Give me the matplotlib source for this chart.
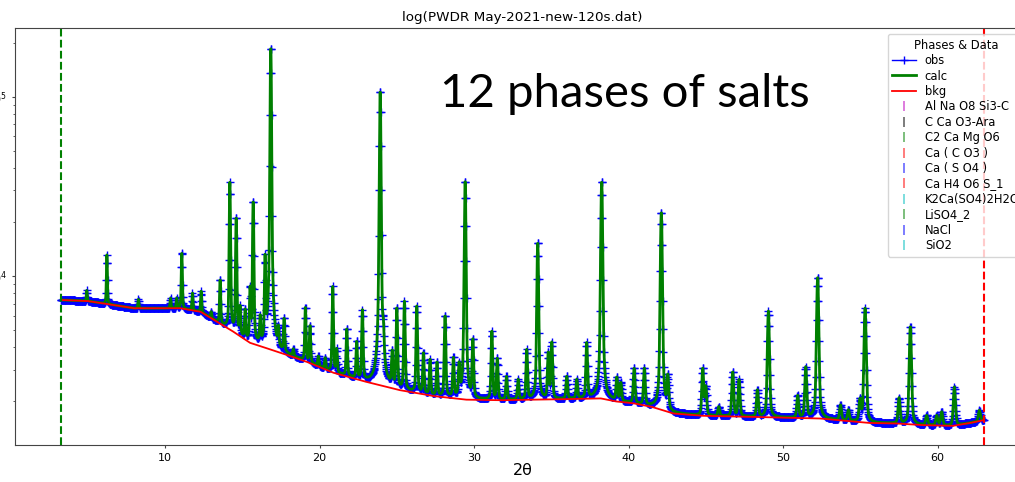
import numpy as np
import matplotlib
matplotlib.use('Agg')
import matplotlib.pyplot as plt
from matplotlib.lines import Line2D

# refined reflections: 2theta position and peak-top counts
peak_tth = [4.93, 6.23, 8.27, 10.35, 10.75, 11.08, 11.77, 12.33, 12.98, 13.56,
            14.19, 14.60, 14.85, 15.18, 15.50, 15.70, 16.15, 16.47, 16.84, 17.33,
            17.70, 18.30, 19.08, 19.38, 19.92, 20.36, 20.85, 21.11, 21.76, 22.40,
            22.77, 23.92, 24.13, 24.70, 25.00, 25.49, 26.29, 26.72, 27.15, 27.60,
            28.12, 28.66, 29.03, 29.42, 29.92, 31.15, 31.50, 32.10, 32.85, 33.41,
            34.12, 34.80, 35.03, 36.00, 36.65, 37.29, 38.26, 39.24, 39.50, 40.36,
            41.02, 42.12, 42.54, 44.80, 45.00, 45.84, 46.74, 47.15, 48.34, 49.05,
            50.95, 51.47, 52.24, 53.72, 54.23, 54.98, 55.31, 57.51, 58.24, 59.30,
            59.95, 60.27, 61.09, 62.71]
peak_top = [8300, 13100, 7400, 7500, 7500, 13700, 8000, 8200, 6300, 9600,
            33200, 21600, 6600, 6450, 8500, 26600, 5700, 12300, 192800, 4800,
            5700, 3860, 6750, 5300, 3550, 3470, 8700, 3860, 5100, 4300,
            6400, 109400, 3860, 3700, 6650, 7180, 6760, 3720, 3390, 3300,
            6050, 3470, 3100, 34400, 4390, 4890, 3470, 2750, 2630, 3860,
            15500, 3720, 4230, 2750, 2630, 4210, 34000, 2690, 2510, 3050,
            3050, 22900, 2690, 3050, 2400, 1860, 2920, 2630, 2310, 6370,
            2140, 3090, 9900, 1900, 1780, 2000, 6610, 2080, 5250, 1660,
            1660, 1740, 2400, 1780]

# background function sampled along the pattern
bkg_tth = [3.27, 5.0, 8.0, 10.0, 11.0, 12.3, 13.35, 14.4, 15.5, 16.6,
           17.9, 19.2, 20.9, 23.0, 25.2, 27.4, 29.5, 31.7, 33.8, 36.0,
           38.2, 39.2, 40.3, 41.5, 42.9, 44.8, 48.0, 52.4, 55.6, 57.4,
           59.1, 61.0, 62.1, 63.0]
bkg_cnt = [7345, 7244, 6607, 6607, 6607, 6310, 5559, 4898, 4236, 3945,
           3622, 3311, 2884, 2570, 2307, 2138, 2042, 2028, 2042, 2056,
           2075, 1995, 1950, 1862, 1710, 1660, 1637, 1603, 1514, 1503,
           1472, 1459, 1514, 1570]

phase_names = ['Al Na O8 Si3-C', 'C Ca O3-Ara', 'C2 Ca Mg O6', 'Ca ( C O3 )',
               'Ca ( S O4 )', 'Ca H4 O6 S_1', 'K2Ca(SO4)2H2O', 'LiSO4_2',
               'NaCl', 'SiO2']
phase_colors = ['m', 'k', 'g', 'r', 'b', 'r', 'c', 'g', 'b', 'c']

tth_lo, tth_hi, step = 3.27, 63.0, 0.02
eta = 0.35

tth = np.arange(tth_lo, tth_hi + 1e-9, step)
log_bkg = np.log10(bkg_cnt)
bkg = 10 ** np.interp(tth, bkg_tth, log_bkg)

# pseudo-Voigt profile on top of the background, width grows with angle
calc = bkg.copy()
for pos, top in zip(peak_tth, peak_top):
    fwhm = 0.06 + 0.0015 * pos
    amp = top - 10 ** np.interp(pos, bkg_tth, log_bkg)
    d = (tth - pos) / (fwhm / 2)
    calc += amp * (eta / (1 + d ** 2) + (1 - eta) * np.exp(-np.log(2) * d ** 2))
obs = calc

fig = plt.figure(figsize=(10.15, 4.82), dpi=100)
ax = fig.add_axes([0.0148, 0.0768, 1.0, 0.8645])

ax.plot(tth, obs, color='b', marker='+', ms=6, mew=1.0, lw=1, label='obs')
ax.plot(tth, calc, color='g', lw=2, label='calc')
ax.plot(bkg_tth, bkg_cnt, color='r', lw=1.3, label='bkg')
ax.axvline(tth_lo, color='g', ls='--', lw=1.5)
ax.axvline(tth_hi, color='r', ls='--', lw=1.5)

ax.set_yscale('log')
ax.set_ylim(1141, 240600)
ax.margins(x=0.05)

ax.set_title('log(PWDR May-2021-new-120s.dat)', fontsize=9.7, pad=5)
ax.set_xlabel('2θ', fontsize=11.5, labelpad=0)
ax.tick_params(labelsize=8, length=2.5, width=0.8, color='#444444')
ax.tick_params(which='minor', length=1.5, width=0.6, color='#444444')
for sp in ax.spines.values():
    sp.set_color('#444444')

handles, labels = ax.get_legend_handles_labels()
for name, col in zip(phase_names, phase_colors):
    handles.append(Line2D([], [], color=col, marker='|', ls='none', ms=7, mew=1.2, alpha=0.6))
    labels.append(name)
ax.legend(handles, labels, loc='upper right', title='Phases & Data', fontsize=8.3,
          title_fontsize=8.3, labelspacing=0.21, handlelength=2)

fig.text(0.4335, 0.7786, '12 phases of salts', fontsize=34, family='Lato',
         va='baseline', ha='left')

fig.savefig('out.png', dpi=100)
